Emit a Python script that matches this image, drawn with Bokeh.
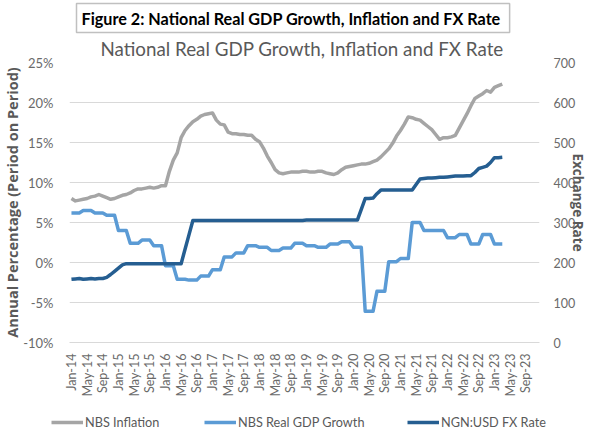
import numpy as np
from math import pi
from bokeh.plotting import figure
from bokeh.layouts import column
from bokeh.models import (Range1d, LinearAxis, FixedTicker, PrintfTickFormatter,
                          Legend, LegendItem, Title)
from bokeh.embed import file_html
from bokeh.resources import INLINE

# ---------------- data ----------------
x_tick_labels = ["Jan-14", "May-14", "Sep-14", "Jan-15", "May-15", "Sep-15",
                 "Jan-16", "May-16", "Sep-16", "Jan-17", "May-17", "Sep-17",
                 "Jan-18", "May-18", "Sep-18", "Jan-19", "May-19", "Sep-19",
                 "Jan-20", "May-20", "Sep-20", "Jan-21", "May-21", "Sep-21",
                 "Jan-22", "May-22", "Sep-22", "Jan-23", "May-23", "Sep-23"]

series_names = ["NBS Inflation", "NBS Real GDP Growth", "NGN:USD FX Rate"]

# NBS headline inflation, % (monthly, Jan-14 .. Mar-23)
inflation = [
    8.0, 7.7, 7.8, 7.9, 8.0, 8.2, 8.3, 8.5, 8.3, 8.1, 7.9, 8.0,
    8.2, 8.4, 8.5, 8.7, 9.0, 9.2, 9.2, 9.3, 9.4, 9.3, 9.4, 9.6,
    9.6, 11.4, 12.8, 13.7, 15.6, 16.5, 17.1, 17.6, 17.9, 18.3, 18.5, 18.6,
    18.7, 17.8, 17.3, 17.2, 16.3, 16.1, 16.1, 16.0, 16.0, 15.9, 15.9, 15.4,
    15.1, 14.3, 13.3, 12.5, 11.6, 11.2, 11.1, 11.2, 11.3, 11.3, 11.3, 11.4,
    11.4, 11.3, 11.3, 11.4, 11.4, 11.2, 11.1, 11.0, 11.2, 11.6, 11.9, 12.0,
    12.1, 12.2, 12.3, 12.3, 12.4, 12.6, 12.8, 13.2, 13.7, 14.2, 14.9, 15.8,
    16.5, 17.3, 18.2, 18.1, 17.9, 17.8, 17.4, 17.0, 16.6, 16.0, 15.4, 15.6,
    15.6, 15.7, 15.9, 16.8, 17.7, 18.6, 19.6, 20.5, 20.8, 21.1, 21.5, 21.3,
    21.9, 22.1, 22.3,
]

# NBS real GDP growth, % (quarterly, Q1-14 .. Q1-23)
gdp_quarterly = [
    6.2, 6.5, 6.2, 5.9,
    4.0, 2.4, 2.8, 2.1,
    -0.4, -2.1, -2.2, -1.7,
    -0.9, 0.7, 1.2, 2.1,
    1.9, 1.5, 1.8, 2.4,
    2.1, 1.9, 2.3, 2.6,
    1.9, -6.1, -3.6, 0.1,
    0.5, 5.0, 4.0, 4.0,
    3.1, 3.5, 2.3, 3.5,
    2.3,
]

# NGN:USD exchange rate (monthly, Jan-14 .. Mar-23)
fx_rate = [
    158, 159, 160, 158, 159, 160, 159, 160, 160, 163, 170, 178,
    186, 194, 197, 197, 197, 197, 197, 197, 197, 197, 197, 197,
    197, 197, 197, 197, 197, 233, 269, 305, 305, 305, 305, 305,
    305, 305, 305, 305, 305, 305, 305, 305, 305, 305, 305, 305,
    305, 305, 305, 305, 305, 305, 305, 305, 305, 305, 305, 305,
    306, 306, 306, 306, 306, 306, 306, 306, 306, 306, 306, 306,
    306, 306, 333, 360, 360, 361, 372, 381, 381, 381, 381, 381,
    381, 381, 381, 381, 395, 409, 410, 411, 411, 412, 413, 413,
    414, 415, 416, 416, 416, 417, 417, 425, 435, 438, 441, 450,
    462, 462, 463,
]

# quarterly GDP held for the three months of each quarter
gdp_monthly = list(np.repeat(gdp_quarterly, 3))
months = list(range(len(inflation)))

# ---------------- styling ----------------
C_INF = "#a5a5a5"
C_GDP = "#5b9bd5"
C_FX = "#255e91"
COLORS = [C_INF, C_GDP, C_FX]
TXT = "#6a6a6a"
GRID = "#d9d9d9"
FONT = "Lato"
BOLD_FONT = "Open Sans"

p = figure(width=590, height=402, output_backend="svg", toolbar_location=None,
           x_range=Range1d(-0.5, 119.5), y_range=Range1d(-10, 25),
           min_border_left=63, min_border_right=45, min_border_top=62,
           min_border_bottom=60, title=None)
p.outline_line_color = None
p.background_fill_color = "white"
p.border_fill_color = "white"

p.extra_y_ranges = {"fx": Range1d(0, 700)}

# grid
p.xgrid.visible = False
p.ygrid.ticker = FixedTicker(ticks=[-10, -5, 0, 5, 10, 15, 20, 25])
p.ygrid.grid_line_color = GRID
p.ygrid.grid_line_width = 1

# left axis
ya = p.yaxis[0]
ya.ticker = FixedTicker(ticks=[-10, -5, 0, 5, 10, 15, 20, 25])
ya.formatter = PrintfTickFormatter(format="%d%%")
ya.axis_line_color = None
ya.major_tick_line_color = None
ya.minor_tick_line_color = None
ya.major_label_standoff = 10
ya.major_label_text_font = FONT
ya.major_label_text_font_size = "13px"
ya.major_label_text_color = TXT
ya.axis_label = "Annual Percentage (Period on Period)"
ya.axis_label_text_font = BOLD_FONT
ya.axis_label_text_font_style = "bold"
ya.axis_label_text_font_size = "14.5px"
ya.axis_label_text_color = "#595959"
ya.axis_label_standoff = -2

# right axis
ra = LinearAxis(y_range_name="fx", ticker=FixedTicker(ticks=[0, 100, 200, 300, 400, 500, 600, 700]))
ra.axis_line_color = None
ra.major_tick_line_color = None
ra.minor_tick_line_color = None
ra.major_label_standoff = 8
ra.major_label_text_font = FONT
ra.major_label_text_font_size = "12.5px"
ra.major_label_text_color = TXT
ra.axis_label = "Exchange Rate"
ra.axis_label_text_font = BOLD_FONT
ra.axis_label_text_font_style = "bold"
ra.axis_label_text_font_size = "13.5px"
ra.axis_label_text_color = "#595959"
ra.axis_label_standoff = -9
p.add_layout(ra, "right")

# bottom axis
xa = p.xaxis[0]
xa.ticker = FixedTicker(ticks=[4 * i for i in range(len(x_tick_labels))])
xa.major_label_overrides = {4 * i: lab for i, lab in enumerate(x_tick_labels)}
xa.major_label_orientation = pi / 2
xa.axis_line_color = GRID
xa.major_tick_line_color = None
xa.minor_tick_line_color = None
xa.major_label_standoff = 5
xa.major_label_text_font = FONT
xa.major_label_text_font_size = "12.5px"
xa.major_label_text_color = TXT

# series
p.line(months, inflation, line_color=C_INF, line_width=3.5, line_join="round")
p.line(months, gdp_monthly, line_color=C_GDP, line_width=3.5, line_join="round")
p.line(months, fx_rate, line_color=C_FX, line_width=3.5, line_join="round",
       y_range_name="fx")

# chart title (closest to the plot) and the figure caption box above it
p.add_layout(Title(text="National Real GDP Growth, Inflation and FX Rate",
                   align="left", offset=31, standoff=5,
                   text_font=FONT, text_font_size="18.8px", text_font_style="normal",
                   text_color="#595959"), "above")
p.add_layout(Title(text="Figure 2:  National Real GDP Growth, Inflation and FX Rate",
                   align="left", offset=7, standoff=0,
                   text_font=FONT, text_font_size="16.2px", text_font_style="bold",
                   text_color="black", background_fill_color="white",
                   border_line_color="#c0c0c0", border_line_width=1.5, padding=5),
             "above")

# ---------------- legend strip below the chart ----------------
lf = figure(width=590, height=38, output_backend="svg", toolbar_location=None,
            x_range=Range1d(0, 590), y_range=Range1d(0, 38),
            x_axis_type=None, y_axis_type=None, min_border=0,
            min_border_left=0, min_border_right=0, min_border_top=0,
            min_border_bottom=0, title=None)
lf.outline_line_color = None
lf.background_fill_color = "white"
lf.border_fill_color = "white"
for fig in (p, lf):
    if "frame_align" in fig.properties():
        fig.frame_align = False

legend_x = [51, 204, 407]
for name, col, lx in zip(series_names, COLORS, legend_x):
    # single-point proxy: draws no visible mark, only feeds the legend swatch
    r = lf.line(x=[0], y=[0], line_color=col, line_width=3.5)
    lg = Legend(items=[LegendItem(label=name, renderers=[r])], location=(lx, 10),
                orientation="horizontal", glyph_width=32, glyph_height=14,
                label_height=14, label_standoff=2, padding=0, margin=0,
                border_line_color=None, background_fill_alpha=0,
                label_text_font=FONT, label_text_font_size="12.7px",
                label_text_color="#595959")
    lf.add_layout(lg, "center")

layout = column(p, lf, spacing=0)
open("out.html", "w").write(file_html(layout, INLINE))
